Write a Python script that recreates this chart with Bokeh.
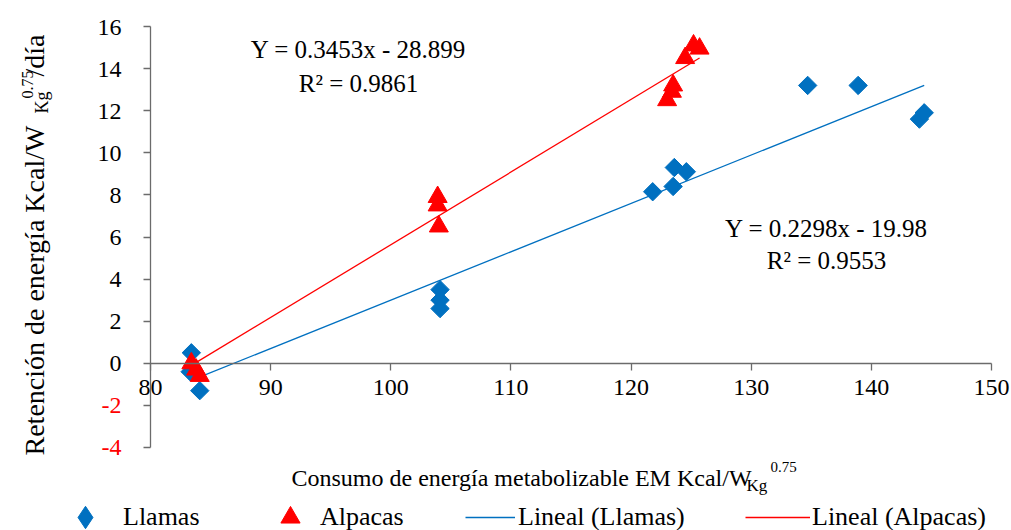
import math
from bokeh.plotting import figure
from bokeh.models import Range1d, FixedTicker, Label, Legend, LegendItem
from bokeh.embed import file_html
from bokeh.resources import INLINE

# ---------------- data ----------------
llama_x = [83.3, 83.4, 84.1, 104.1, 104.1, 104.1, 121.8, 123.5, 123.6, 124.6, 134.7, 138.9, 144.0, 144.4]
llama_y = [-0.4, 0.5, -1.3, 3.5, 3.0, 2.6, 8.15, 8.4, 9.3, 9.1, 13.2, 13.2, 11.6, 11.9]
alpaca_x = [83.4, 83.8, 84.1, 103.9, 103.9, 104.0, 123.0, 123.4, 123.5, 124.5, 125.2, 125.7]
alpaca_y = [0.0, -0.3, -0.6, 7.9, 7.5, 6.5, 12.5, 12.9, 13.2, 14.5, 15.1, 14.95]
trend_slope = [0.2298, 0.3453]      # Llamas, Alpacas
trend_intercept = [-19.98, -28.899]
trend_r2 = [0.9553, 0.9861]
x_ticks = [80, 90, 100, 110, 120, 130, 140, 150]
y_ticks = [-4, -2, 0, 2, 4, 6, 8, 10, 12, 14, 16]
red_y_ticks = [-2, -4]
legend_labels = ["Llamas", "Alpacas", "Lineal (Llamas)", "Lineal (Alpacas)"]

BLUE = "#0070C0"
RED = "#FF0000"
FONT = "'Liberation Serif', 'Times New Roman', serif"
AX = "#6b6b6b"

W, H = 1011, 530
# plot area in canvas pixels: x 80..150 -> 150..991, y 16..-4 -> 26..447
XMIN, XMAX, YMIN, YMAX = 80, 150, -4, 16
PL, PR, PT, PB = 150, 991, 26, 447
kx = (PR - PL) / (XMAX - XMIN)
ky = (PB - PT) / (YMAX - YMIN)
x_range = Range1d(XMIN - PL / kx, XMAX + (W - PR) / kx)
y_range = Range1d(YMIN - (H - PB) / ky, YMAX + PT / ky)

p = figure(width=W, height=H, output_backend="svg", toolbar_location=None,
           x_range=x_range, y_range=y_range,
           min_border=0, min_border_left=0, min_border_right=0,
           min_border_top=0, min_border_bottom=0)
p.outline_line_color = None
p.grid.visible = False
p.background_fill_color = "white"
p.border_fill_color = "white"

xa = p.xaxis[0]
ya = p.yaxis[0]
xa.fixed_location = 0
ya.fixed_location = XMIN
xa.bounds = (XMIN, XMAX)
ya.bounds = (YMIN, YMAX)
xa.ticker = FixedTicker(ticks=x_ticks)
ya.ticker = FixedTicker(ticks=y_ticks)
ya.major_label_overrides = {t: " " for t in red_y_ticks}
for ax in (xa, ya):
    ax.axis_line_color = AX
    ax.major_tick_line_color = AX
    ax.axis_line_width = 1.3
    ax.major_tick_line_width = 1.3
    ax.major_tick_out = 7
    ax.major_tick_in = 0
    ax.minor_tick_line_color = None
    ax.major_label_text_font = FONT
    ax.major_label_text_font_size = "24px"
    ax.major_label_text_color = "black"
xa.major_label_standoff = 10
ya.major_label_standoff = 22

for t in red_y_ticks:
    p.add_layout(Label(x=121, y=t, x_units="screen", y_units="data", text=str(t),
                       text_align="right", text_baseline="middle", text_color=RED,
                       text_font=FONT, text_font_size="24px"))

# trend lines
lx = [min(llama_x), max(llama_x)]
ax_ = [min(alpaca_x), max(alpaca_x)]
r_ll = p.line(lx, [trend_slope[0] * v + trend_intercept[0] for v in lx], line_color=BLUE, line_width=1.3)
r_al = p.line(ax_, [trend_slope[1] * v + trend_intercept[1] for v in ax_], line_color=RED, line_width=1.3)

# points
r_l = p.scatter(llama_x, llama_y, marker="square", size=13, angle=math.pi / 4,
                fill_color=BLUE, line_color=BLUE)
r_a = p.scatter(alpaca_x, alpaca_y, marker="triangle", size=19,
                fill_color=RED, line_color=RED)
# legend-only glyph (a single NaN point, never drawn): diamond swatch for the Llamas entry
nan = float("nan")
r_l_key = p.scatter([nan], [nan], marker="diamond", fill_color=BLUE, line_color=BLUE)

# text helper in canvas pixels (frame == canvas)
def cl(px, py, text, size="25px", align="center", angle=0.0):
    p.add_layout(Label(x=px, y=H - py, x_units="screen", y_units="screen", text=text,
                       text_align=align, text_baseline="alphabetic", angle=angle,
                       text_font=FONT, text_font_size=size, text_color="black"))

cl(358, 49, "Y = %.4fx - %.3f" % (trend_slope[1], -trend_intercept[1]))
cl(358, 83, "R² = %.4f" % trend_r2[1])
cl(826, 228, "Y = %.4fx - %.2f" % (trend_slope[0], -trend_intercept[0]))
cl(826, 260, "R² = %.4f" % trend_r2[0])

# x axis title
cl(291, 477, "Consumo de energía metabolizable EM Kcal/W", "24px", "left")
cl(746, 485, "Kg", "17px", "left")
cl(770, 466, "0.75", "15px", "left")

# y axis title (rotated)
rot = math.pi / 2
cl(33.5, 455, "Retención de energía  Kcal/W", "28px", "left", rot)
cl(41, 113, "Kg", "18px", "left", rot)
cl(27, 98, "0.75", "16px", "left", rot)
cl(33.5, 76, "/día", "28px", "left", rot)

# legends (one per entry, placed by canvas pixel; centre line at y=517)
LEG_CY = 517
def add_leg(label, rend, gx, gw, gh, standoff):
    lg = Legend(items=[LegendItem(label=label, renderers=[rend])],
                location=(gx, H - (LEG_CY + gh / 2)), orientation="horizontal",
                glyph_width=gw, glyph_height=gh, label_height=gh,
                label_standoff=standoff, padding=0, margin=0, spacing=0,
                border_line_color=None, background_fill_alpha=0,
                label_text_font=FONT, label_text_font_size="26px",
                label_text_color="black")
    p.add_layout(lg)

add_leg(legend_labels[0], r_l_key, 57, 56, 56, 10)
add_leg(legend_labels[1], r_a, 266, 48, 48, 6)
add_leg(legend_labels[2], r_ll, 465, 50, 30, 3)
add_leg(legend_labels[3], r_al, 745, 65, 30, 2)

open("out.html", "w").write(file_html(p, INLINE))
